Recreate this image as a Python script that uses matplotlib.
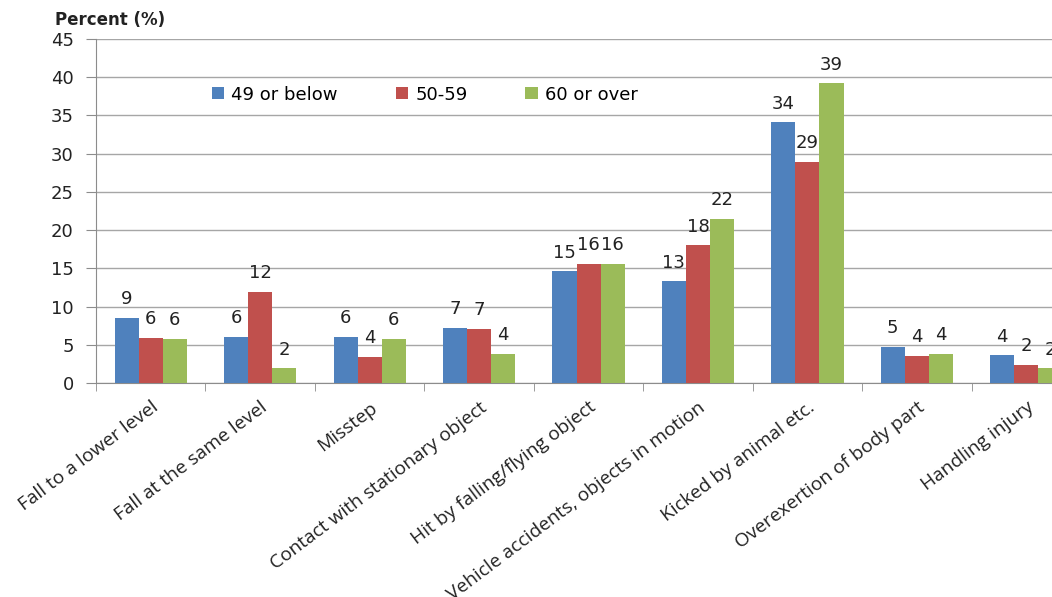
import numpy as np
import matplotlib.pyplot as plt

plt.rcParams['font.family'] = 'DejaVu Sans'

categories = ['Fall to a lower level', 'Fall at the same level', 'Misstep',
              'Contact with stationary object', 'Hit by falling/flying object',
              'Vehicle accidents, objects in motion', 'Kicked by animal etc.',
              'Overexertion of body part', 'Handling injury']

series_names = ['49 or below', '50-59', '60 or over']

# bar heights
below49 = [8.5, 6.0, 6.0, 7.2, 14.6, 13.3, 34.1, 4.75, 3.6]
age5059 = [5.9, 11.9, 3.45, 7.1, 15.6, 18.0, 28.9, 3.5, 2.35]
over60 = [5.8, 1.9, 5.8, 3.85, 15.6, 21.5, 39.2, 3.85, 1.9]

# printed data labels
lab_below49 = ['9', '6', '6', '7', '15', '13', '34', '5', '4']
lab_5059 = ['6', '12', '4', '7', '16', '18', '29', '4', '2']
lab_over60 = ['6', '2', '6', '4', '16', '22', '39', '4', '2']

colors = ['#4F81BD', '#C0504D', '#9BBB59']

fig = plt.figure(figsize=(10.52, 5.97), dpi=100)
ax = fig.add_axes([0.0913, 0.3585, 0.9363, 0.5762])

x = np.arange(len(categories))
w = 0.22
series = [below49, age5059, over60]
labels = [lab_below49, lab_5059, lab_over60]
for k in range(3):
    pos = x + (k - 1) * w
    ax.bar(pos, series[k], width=w, color=colors[k], label=series_names[k], zorder=3)
    for px, v, t in zip(pos, series[k], labels[k]):
        ax.annotate(t, (px, v), xytext=(0, 13.5), textcoords='offset points',
                    ha='center', va='center', fontsize=13, color='#222222')

ax.set_xlim(-0.5, len(categories) - 0.5)
ax.set_ylim(0, 45)
ax.set_yticks(np.arange(0, 46, 5))
ax.yaxis.grid(True, color='#a6a6a6', linewidth=1, zorder=0)
ax.set_axisbelow(True)

for s in ['top', 'right']:
    ax.spines[s].set_visible(False)
for s in ['left', 'bottom']:
    ax.spines[s].set_color('#8c8c8c')

ax.tick_params(axis='y', length=7, color='#8c8c8c', pad=9, labelsize=13, labelcolor='#222222')
ax.set_xticks(x)
ax.set_xticklabels(categories, rotation=37, ha='right', rotation_mode='anchor',
                   fontsize=13.8, family='Open Sans', color='#222222')
ax.tick_params(axis='x', which='major', length=0, pad=11)
ax.set_xticks(np.arange(-0.5, len(categories), 1), minor=True)
ax.tick_params(axis='x', which='minor', length=6, color='#8c8c8c')

fig.text(0.052, 0.966, 'Percent (%)', fontsize=12, fontweight='bold', va='center', color='#222222')

ax.legend(loc='center left', bbox_to_anchor=(0.2015, 0.8415), bbox_transform=fig.transFigure,
          ncol=3, frameon=False, fontsize=13, handlelength=0.68, handleheight=0.68,
          handletextpad=0.4, columnspacing=3.2, borderaxespad=0, borderpad=0)

fig.savefig('out.png', dpi=100)
